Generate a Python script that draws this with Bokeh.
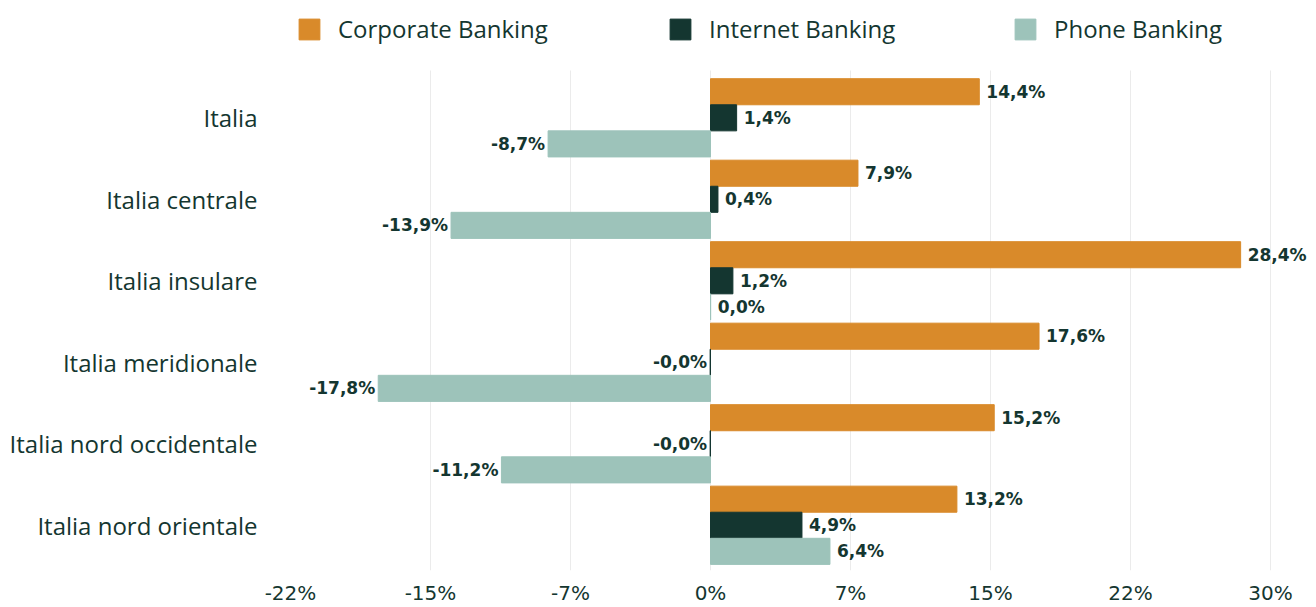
import numpy as np
from bokeh.plotting import figure
from bokeh.models import (ColumnDataSource, Range1d, FixedTicker, Legend, LegendItem)
from bokeh.core.properties import value
from bokeh.embed import file_html
from bokeh.resources import INLINE

categories = ["Italia", "Italia centrale", "Italia insulare", "Italia meridionale",
              "Italia nord occidentale", "Italia nord orientale"]
series_names = ["Corporate Banking", "Internet Banking", "Phone Banking"]
corporate = [14.4, 7.9, 28.4, 17.6, 15.2, 13.2]
internet = [1.4, 0.4, 1.2, -0.02, -0.02, 4.9]
phone = [-8.7, -13.9, 0.01, -17.8, -11.2, 6.4]
x_ticks = [-22.5, -15, -7.5, 0, 7.5, 15, 22.5, 30]
x_tick_labels = ["-22%", "-15%", "-7%", "0%", "7%", "15%", "22%", "30%"]

colors = ["#D98A2A", "#143630", "#9DC3BA"]
TEXT = "#143630"
CAT_FONT = "Open Sans"
NUM_FONT = "DejaVu Sans"

n = len(categories)
ypos = np.arange(n)[::-1].astype(float)  # Italia at top
bar_h = 0.32
offsets = [bar_h, 0.0, -bar_h]
y_lo, y_hi = -0.555, 5.585          # extent of the grid area
px_per_unit = 503 / (y_hi - y_lo)
x_px = 980 / 52.5

p = figure(width=1316, height=607, output_backend="svg", toolbar_location=None,
           x_range=Range1d(-22.5, 30 + 46 / x_px),
           y_range=Range1d(y_lo, y_hi + 70 / px_per_unit),
           min_border_left=290, min_border_right=0, min_border_top=0,
           min_border_bottom=34)

renderers = []
for vals, off, col in zip([corporate, internet, phone], offsets, colors):
    src = ColumnDataSource(dict(
        y=ypos + off,
        right=vals,
        left=[0] * n,
        lab=[f"{v:.1f}".replace(".", ",") + "%" for v in vals],
        align=["right" if v < 0 else "left" for v in vals],
        xo=[-3 if v < 0 else 7 for v in vals],
    ))
    r = p.hbar(y="y", left="left", right="right", height=bar_h, source=src,
               fill_color=col, line_color=col, line_width=1)
    renderers.append(r)
    p.text(x="right", y="y", text="lab", source=src, text_align="align",
           x_offset="xo", text_baseline="middle", text_color=TEXT,
           text_font=value(NUM_FONT), text_font_size="17px", text_font_style="bold")

leg_x = [6, 377, 722]
for name, r, lx in zip(series_names, renderers, leg_x):
    lg = Legend(items=[LegendItem(label=name, renderers=[r])],
                location=(lx, 525), orientation="horizontal",
                padding=0, margin=0, border_line_color=None,
                background_fill_alpha=0, glyph_width=26, glyph_height=26,
                label_height=26, label_standoff=16,
                label_text_font=CAT_FONT, label_text_font_size="24px",
                label_text_color=TEXT)
    p.add_layout(lg, "center")

p.xaxis.ticker = FixedTicker(ticks=x_ticks)
p.xaxis.major_label_overrides = {t: l for t, l in zip(x_ticks, x_tick_labels)}
p.xaxis.major_label_text_font = NUM_FONT
p.xaxis.major_label_text_font_size = "20px"
p.xaxis.major_label_text_color = TEXT
p.xaxis.major_label_standoff = 10

p.yaxis.ticker = FixedTicker(ticks=list(ypos))
p.yaxis.major_label_overrides = {float(y): c for y, c in zip(ypos, categories)}
p.yaxis.major_label_text_font = CAT_FONT
p.yaxis.major_label_text_font_size = "24px"
p.yaxis.major_label_text_color = TEXT
p.yaxis.major_label_standoff = 33

for ax in [p.xaxis, p.yaxis]:
    ax.axis_line_color = None
    ax.major_tick_line_color = None
    ax.minor_tick_line_color = None
    ax.major_tick_out = 0
    ax.major_tick_in = 0
    ax.minor_tick_out = 0
    ax.minor_tick_in = 0

p.xgrid.grid_line_color = "#ebebeb"
p.xgrid.grid_line_width = 1
p.xgrid.cross_bounds = (y_lo, y_hi)
p.ygrid.grid_line_color = None
p.outline_line_color = None

open("out.html", "w").write(file_html(p, INLINE))
